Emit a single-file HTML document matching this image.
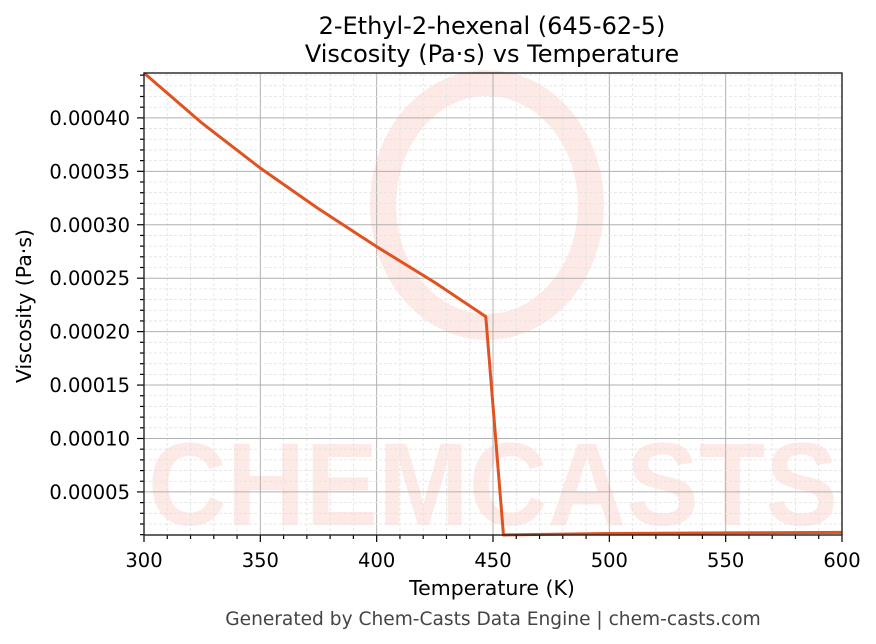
<!DOCTYPE html>
<html><head><meta charset="utf-8"><style>
body{margin:0;background:#fff;}
svg{display:block;font-family:"DejaVu Sans","Liberation Sans",sans-serif;}
</style></head><body>
<svg id="chart" width="876" height="644">
<rect width="876" height="644" fill="#fff"/>
<g id="wm" opacity="0.14">
<ellipse cx="487" cy="205" rx="104" ry="122" fill="none" stroke="#f26b50" stroke-width="26"/>
<text x="148" y="525" font-size="118" font-weight="bold" fill="#f26b50" textLength="690" lengthAdjust="spacingAndGlyphs" font-family="Liberation Sans, sans-serif">CHEMCASTS</text>
</g>
<g id="grid"></g>
<g id="marks"></g>
<g id="axes"></g>
<text x="492" y="34" font-size="24" text-anchor="middle">2-Ethyl-2-hexenal (645-62-5)</text>
<text x="492" y="62" font-size="24" text-anchor="middle">Viscosity (Pa·s) vs Temperature</text>
<text x="492" y="595" font-size="20.5" text-anchor="middle">Temperature (K)</text>
<text transform="translate(31,306) rotate(-90)" font-size="20.5" text-anchor="middle">Viscosity (Pa·s)</text>
<text x="493" y="625" font-size="18.6" fill="#444" text-anchor="middle">Generated by Chem-Casts Data Engine | chem-casts.com</text>
</svg>
<script>
const temps=[300,325,350,375,400,425,446.9,454.5,500,550,600];
const visc=[0.000442,0.000395,0.000353,0.000315,0.0002795,0.000246,0.000214,0.0000097,0.0000111,0.0000117,0.0000122];
const xTicks=[300,350,400,450,500,550,600];
const yTicks=[0.00005,0.0001,0.00015,0.0002,0.00025,0.0003,0.00035,0.0004];
const yLabels=["0.00005","0.00010","0.00015","0.00020","0.00025","0.00030","0.00035","0.00040"];
const L=144,R=842,T=73,B=535,xmin=300,xmax=600,ymin=0.0000097,ymax=0.000442;
const X=v=>L+(v-xmin)/(xmax-xmin)*(R-L);
const Y=v=>B-(v-ymin)/(ymax-ymin)*(B-T);
const NS="http://www.w3.org/2000/svg";
function mk(tag,attrs,parent){const e=document.createElementNS(NS,tag);for(const k in attrs)e.setAttribute(k,attrs[k]);parent.appendChild(e);return e;}
const g=document.getElementById('grid'),m=document.getElementById('marks'),a=document.getElementById('axes');
for(let v=300;v<=600;v+=10){const x=X(v);const major=v%50===0;
const l=mk('line',{x1:x,x2:x,y1:T,y2:B,stroke:major?'#b0b0b0':'#e2e2e2','stroke-width':major?1:0.8,'stroke-dasharray':major?'':'3,2'},g);


const t=mk('line',{x1:x,x2:x,y1:B,y2:B+(major?7:4),stroke:'#000','stroke-width':1.2},a);

}
for(let i=1;i<=44;i++){const v=i*0.00001;if(v<ymin||v>ymax)continue;const y=Y(v);const major=i%5===0;
const l=mk('line',{x1:L,x2:R,y1:y,y2:y,stroke:major?'#b0b0b0':'#e2e2e2','stroke-width':major?1:0.8,'stroke-dasharray':major?'':'3,2'},g);


const t=mk('line',{x1:L-(major?7:4),x2:L,y1:y,y2:y,stroke:'#000','stroke-width':1.2},a);

}
xTicks.forEach(v=>{const t=mk('text',{x:X(v),y:567,'font-size':19.5,'text-anchor':'middle'},a);t.textContent=v;

});
yTicks.forEach((v,i)=>{const t=mk('text',{x:L-14,y:Y(v)+7,'font-size':19.5,'text-anchor':'end'},a);t.textContent=yLabels[i];

});
const fr=mk('rect',{x:L,y:T,width:R-L,height:B-T,fill:'none',stroke:'#222','stroke-width':1.4},a);


const p=mk('polyline',{points:temps.map((t,i)=>X(t)+','+Y(visc[i])).join(' '),fill:'none',stroke:'#e05320','stroke-width':3,'stroke-linejoin':'round'},m);


</script>
</body></html>
